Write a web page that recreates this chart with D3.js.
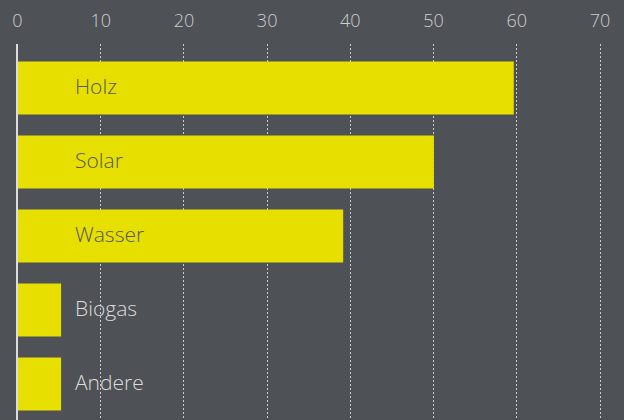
<!DOCTYPE html>
<html><head><meta charset="utf-8">
<script src="https://cdn.jsdelivr.net/npm/d3@7"></script>
<style>
html,body{margin:0;padding:0;background:#4e5155;}
svg{display:block;font-family:"Open Sans",Lato,sans-serif;}
</style></head><body>
<svg id="c" width="624" height="420"></svg>
<script>
const categories = ["Holz","Solar","Wasser","Biogas","Andere"];
const values = [59.7, 50.1, 39.2, 5.3, 5.3];
const ticks = [0,10,20,30,40,50,60,70];

const svg = d3.select("#c");
const W = 624, H = 420;
svg.append("rect").attr("width",W).attr("height",H).attr("fill","#4e5155");

const x = d3.scaleLinear().domain([0,70]).range([17,599.5]);
const y = d3.scaleBand().domain(categories).range([61.5,410.5]).paddingInner(0.2838).paddingOuter(0);

// gridlines
svg.append("g").selectAll("line").data(ticks.slice(1)).join("line")
  .attr("x1",d=>Math.round(x(d))+0.5).attr("x2",d=>Math.round(x(d))+0.5)
  .attr("y1",44).attr("y2",H)
  .attr("stroke","#c9cacb").attr("stroke-width",1).attr("stroke-dasharray","2,2");

// axis labels
const axis = d3.axisTop(x).tickValues(ticks).tickSize(0).tickPadding(0);
const ag = svg.append("g").attr("transform","translate(0,27)").call(axis);
ag.select(".domain").remove();
ag.selectAll("text").attr("fill","#cdcecf").attr("font-size",18).attr("font-weight",300)
  .attr("font-family","'Open Sans',Lato,sans-serif");

// bars
svg.append("g").selectAll("rect").data(values).join("rect")
  .attr("x",x(0)+1).attr("y",(d,i)=>y(categories[i]))
  .attr("width",d=>x(d)-x(0)-1).attr("height",y.bandwidth())
  .attr("fill","#e6df00");

// zero line
svg.append("line").attr("x1",x(0)).attr("x2",x(0)).attr("y1",44).attr("y2",H)
  .attr("stroke","#dcdcdc").attr("stroke-width",2);

// labels
const lx = 75;
svg.append("g").selectAll("text").data(categories).join("text")
  .attr("x",lx).attr("y",c=>y(c)+y.bandwidth()/2)
  .attr("dy","0.3em").attr("font-size",21).attr("font-weight",300)
  .attr("fill",(c,i)=> x(values[i]) > lx+10 ? "#55575a" : "#dcdcdc")
  .text(c=>c);
</script>
</body></html>
